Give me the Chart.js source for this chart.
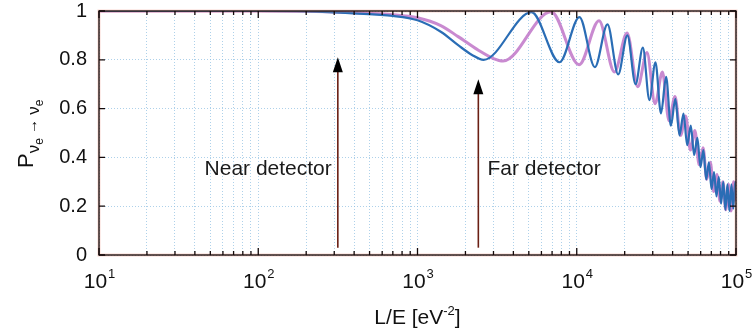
<!DOCTYPE html>
<html>
<head>
<meta charset="utf-8">
<script src="https://cdn.jsdelivr.net/npm/chart.js@4.4.1/dist/chart.umd.min.js"></script>
<style>html,body{margin:0;padding:0;background:#fff}</style>
</head>
<body>
<canvas id="chart" width="753" height="331"></canvas>
<script>
// values (L/E in eV^-2, survival probability)
const blueLE = [10,100,200,400,700,1000,1400,1800,2200,2600,5200,7800,10400,13000,15600,18200,20800,23400,26000,28600,31200,33800,36400,39000,41600,44200,46800,49400,52000,54600,57200,59800,62400,65000,67600,70200,72800,75400,78000,80600,83200,85800,88400,91000,93600,96200,98800,100000];
const blueP  = [1,1,0.998,0.99,0.98,0.962,0.915,0.86,0.82,0.80,0.995,0.79,0.975,0.77,0.945,0.74,0.90,0.70,0.85,0.635,0.79,0.58,0.73,0.53,0.64,0.49,0.58,0.45,0.53,0.41,0.48,0.36,0.43,0.31,0.38,0.27,0.34,0.24,0.32,0.21,0.30,0.185,0.29,0.18,0.29,0.19,0.30,0.28];
const pinkLE = [10,100,200,400,700,1000,1400,1800,2400,3000,3450,6900,10350,13800,17250,20700,24150,27600,31050,34500,37950,41400,44850,48300,51750,55200,58650,62100,65550,69000,72450,75900,79350,82800,86250,89700,93150,96600,100000];
const pinkP  = [1,1,0.999,0.993,0.985,0.972,0.94,0.895,0.84,0.805,0.795,0.997,0.78,0.96,0.75,0.91,0.69,0.83,0.62,0.75,0.55,0.65,0.49,0.57,0.43,0.51,0.37,0.44,0.31,0.38,0.26,0.33,0.22,0.30,0.185,0.29,0.18,0.30,0.22];

const yTicks = [0,0.2,0.4,0.6,0.8,1];
const yLabels = ['0','0.2','0.4','0.6','0.8','1'];
const xMajor = [10,100,1000,10000,100000];
const xExp = ['1','2','3','4','5'];

const arrowLE = [316,2410];
const arrowTop = [0.81,0.72];
const arrowBase = 0.03;
const notes = ['Near detector','Far detector'];
const noteLE = [46,2750];
const noteP = 0.35;

const FONT = '"Liberation Sans", Arial, sans-serif';
const BLUE = '#2a6db5', PINK = 'rgba(192,118,200,0.85)';
const GRID = 'rgba(140,190,225,0.7)';

const xGrid = [];
xMajor.forEach((m,i)=>{ if(i<xMajor.length-1) for(let k=1;k<10;k++) xGrid.push(m*k); else xGrid.push(m); });

const zip = (a,b)=>a.map((v,i)=>({x:v,y:b[i]}));

const decor = {
  id:'decor',
  afterDraw(chart){
    const {ctx, chartArea:a, scales:{x,y}} = chart;
    ctx.save();
    // frame
    ctx.strokeStyle='rgba(235,140,120,0.35)'; ctx.lineWidth=3;
    ctx.strokeRect(a.left,a.top,a.right-a.left,a.bottom-a.top);
    ctx.strokeStyle='#140a0a'; ctx.lineWidth=1.3;
    ctx.strokeRect(a.left,a.top,a.right-a.left,a.bottom-a.top);
    // inward ticks
    ctx.beginPath();
    yTicks.forEach(v=>{const py=y.getPixelForValue(v);
      ctx.moveTo(a.left,py);ctx.lineTo(a.left+6,py);
      ctx.moveTo(a.right,py);ctx.lineTo(a.right-6,py);});
    xGrid.forEach(v=>{const px=x.getPixelForValue(v);const L=xMajor.includes(v)?7:4;
      ctx.moveTo(px,a.top);ctx.lineTo(px,a.top+L);
      ctx.moveTo(px,a.bottom);ctx.lineTo(px,a.bottom-L);});
    ctx.stroke();
    // y labels
    ctx.fillStyle='#111';
    ctx.font='20px '+FONT; ctx.textAlign='right'; ctx.textBaseline='middle';
    yTicks.forEach((v,i)=>ctx.fillText(yLabels[i],a.left-12,y.getPixelForValue(v)));
    // x labels with exponent
    ctx.textAlign='left'; ctx.textBaseline='alphabetic';
    xMajor.forEach((v,i)=>{
      const px=x.getPixelForValue(v);
      ctx.font='21px '+FONT; const w1=ctx.measureText('10').width;
      ctx.font='13px '+FONT; const w2=ctx.measureText(xExp[i]).width;
      const x0=px-(w1+w2)/2;
      ctx.font='21px '+FONT; ctx.fillText('10',x0,a.bottom+33);
      ctx.font='13px '+FONT; ctx.fillText(xExp[i],x0+w1+1,a.bottom+23);
    });
    // x title
    const parts=[['L/E [eV',21,0],['-2',13,-9],[']',21,0]];
    let tw=0; parts.forEach(p=>{ctx.font=p[1]+'px '+FONT;tw+=ctx.measureText(p[0]).width;});
    let cx=(a.left+a.right)/2-tw/2;
    parts.forEach(p=>{ctx.font=p[1]+'px '+FONT;ctx.fillText(p[0],cx,a.bottom+69+p[2]);cx+=ctx.measureText(p[0]).width;});
    // y title
    ctx.translate(33,168); ctx.rotate(-Math.PI/2);
    const yp=[['P',22,0],['\u03bd',17,6],['e',12,10],[' \u2192 ',15,4],['\u03bd',17,6],['e',12,10]];
    let ox=0; yp.forEach(p=>{ctx.font=p[1]+'px '+FONT;ctx.fillText(p[0],ox,p[2]);ox+=ctx.measureText(p[0]).width;});
    ctx.setTransform(1,0,0,1,0,0);
    // arrows
    arrowLE.forEach((v,i)=>{
      const px=x.getPixelForValue(v), pt=y.getPixelForValue(arrowTop[i]), pb=y.getPixelForValue(arrowBase);
      ctx.strokeStyle='#6b1f14'; ctx.lineWidth=1.6;
      ctx.beginPath(); ctx.moveTo(px,pb); ctx.lineTo(px,pt+12); ctx.stroke();
      ctx.fillStyle='#000';
      ctx.beginPath(); ctx.moveTo(px,pt); ctx.lineTo(px-5,pt+15); ctx.lineTo(px+5,pt+15); ctx.closePath(); ctx.fill();
    });
    // notes
    ctx.fillStyle='#1a1a1a'; ctx.font='21px '+FONT; ctx.textAlign='left'; ctx.textBaseline='middle';
    notes.forEach((t,i)=>ctx.fillText(t,x.getPixelForValue(noteLE[i]),y.getPixelForValue(noteP)));
    ctx.restore();
  }
};

new Chart(document.getElementById('chart'),{
  type:'line',
  data:{datasets:[
    {label:'blue',data:zip(blueLE,blueP),borderColor:BLUE,borderWidth:2.2,pointRadius:0,fill:false,cubicInterpolationMode:'monotone'},
    {label:'pink',data:zip(pinkLE,pinkP),borderColor:PINK,borderWidth:3,pointRadius:0,fill:false,cubicInterpolationMode:'monotone'}
  ]},
  options:{
    responsive:false,animation:false,
    layout:{padding:{left:0,right:17,top:11,bottom:0}},
    plugins:{legend:{display:false},tooltip:{enabled:false}},
    scales:{
      x:{type:'logarithmic',min:10,max:100000,
        afterBuildTicks:s=>{s.ticks=xGrid.map(v=>({value:v}));},
        afterFit:s=>{s.height=76;},
        ticks:{display:false},
        grid:{color:GRID,lineWidth:1,drawTicks:false},
        border:{display:false,dash:[1,2]}},
      y:{min:0,max:1,
        afterBuildTicks:s=>{s.ticks=yTicks.map(v=>({value:v}));},
        afterFit:s=>{s.width=99;},
        ticks:{display:false},
        grid:{color:GRID,lineWidth:1,drawTicks:false},
        border:{display:false,dash:[1,2]}}
    }
  },
  plugins:[decor]
});
</script>
</body>
</html>
